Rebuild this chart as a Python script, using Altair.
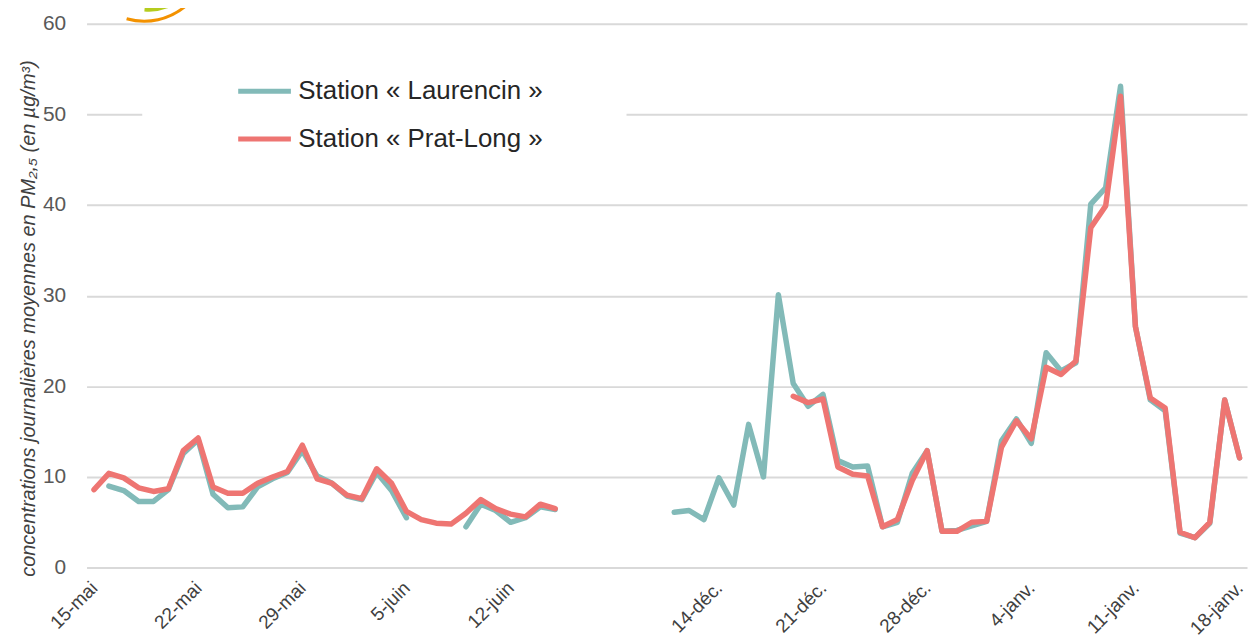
import json
import altair as alt
import pandas as pd

# ---------------- data ----------------
stations = ["Station « Laurencin »", "Station « Prat-Long »"]
colors = ["#82BAB8", "#EE7572"]

# category slots: 0..31 = 15 mai -> 15 juin, 32..38 empty, 39..77 = 11 déc -> 18 janv
n_slots = 78
may_start = 0
dec_start = 39
tick_step = 7
tick_labels = ["15-mai", "22-mai", "29-mai", "5-juin", "12-juin", "",
               "14-déc.", "21-déc.", "28-déc.", "4-janv.", "11-janv.", "18-janv."]

may_laurencin = [None, 9.0, 8.5, 7.3, 7.3, 8.6, 12.6, 14.1, 8.1, 6.6, 6.7, 8.9,
                 9.8, 10.5, 12.9, 10.1, 9.3, 7.9, 7.5, 10.5, 8.5, 5.5, None, None,
                 None, 4.5, 7.0, 6.3, 5.0, 5.5, 6.7, 6.4]
may_pratlong = [8.6, 10.4, 9.9, 8.8, 8.4, 8.7, 12.9, 14.3, 8.9, 8.2, 8.2, 9.3,
                10.0, 10.6, 13.5, 9.8, 9.3, 8.0, 7.6, 10.9, 9.3, 6.2, 5.3, 4.9,
                4.8, 6.0, 7.5, 6.5, 5.9, 5.6, 7.0, 6.5]
dec_laurencin = [6.1, 6.3, 5.3, 9.9, 6.9, 15.8, 10.0, 30.1, 20.3, 17.8, 19.1, 11.8,
                 11.1, 11.2, 4.5, 5.0, 10.4, 12.9, 4.0, 4.1, 4.6, 5.1, 14.0, 16.4,
                 13.7, 23.7, 21.7, 22.6, 40.1, 41.9, 53.1, 26.6, 18.5, 17.3, 3.8,
                 3.3, 4.9, 18.5, 12.1]
dec_pratlong = [None, None, None, None, None, None, None, None, 18.9, 18.2, 18.6,
                11.1, 10.3, 10.1, 4.5, 5.3, 9.6, 12.9, 4.0, 4.0, 5.0, 5.1, 13.3,
                16.2, 14.2, 22.1, 21.3, 22.8, 37.5, 39.9, 52.0, 26.6, 18.7, 17.6,
                3.9, 3.3, 5.0, 18.5, 12.1]

rows = []


def add(series, start, station, campaign):
    seg = 0
    gap = True
    for i, v in enumerate(series):
        if v is None:
            gap = True
            continue
        if gap:
            seg += 1
            gap = False
        rows.append({"x": start + i, "v": v, "station": station,
                     "seg": f"{station}-{campaign}-{seg}"})


add(may_laurencin, may_start, stations[0], "a")
add(dec_laurencin, dec_start, stations[0], "b")
add(may_pratlong, may_start, stations[1], "a")
add(dec_pratlong, dec_start, stations[1], "b")
df = pd.DataFrame(rows)

tick_values = [i * tick_step for i in range(len(tick_labels))]
label_expr = json.dumps(tick_labels, ensure_ascii=False) + "[round(datum.value / 7)]"

FONT = "Liberation Sans, Arial, sans-serif"

x_enc = alt.X(
    "x:Q",
    scale=alt.Scale(domain=[-0.5, n_slots - 0.5], nice=False, zero=False),
    axis=alt.Axis(values=tick_values, labelExpr=label_expr, labelAngle=315,
                  labelAlign="right", labelBaseline="middle", labelPadding=17,
                  labelFontSize=19, labelColor="#404040", labelFlush=False,
                  labelOverlap=False, domain=False, ticks=False, grid=False,
                  title=None),
)
y_enc = alt.Y(
    "v:Q",
    scale=alt.Scale(domain=[0, 60], nice=False, zero=True),
    axis=alt.Axis(values=[0, 10, 20, 30, 40, 50, 60], grid=True,
                  gridColor="#D9D9D9", gridWidth=2, domain=False, ticks=False,
                  labelPadding=21, labelFontSize=21, labelColor="#595959",
                  title="concentrations journalières moyennes en PM₂,₅ (en µg/m³)",
                  titleFontStyle="italic", titleFontWeight="normal",
                  titleFontSize=20, titleColor="#404040", titleAngle=270,
                  titleX=-58, titleY=296, titleAlign="center",
                  titleBaseline="middle"),
)
color_enc = alt.Color(
    "station:N",
    scale=alt.Scale(domain=stations, range=colors),
    legend=alt.Legend(orient="none", legendX=150, legendY=39, title=None,
                      symbolType="stroke", symbolSize=2809, symbolStrokeWidth=5,
                      labelFontSize=26, labelOffset=5, rowPadding=6,
                      labelLimit=600, padding=0, labelColor="#262626"),
)

one = pd.DataFrame({"k": [0]})

white_box = alt.Chart(one).mark_rect(color="white").encode(
    x=alt.value(56), x2=alt.value(543), y=alt.value(60), y2=alt.value(122)
)

lines = []
for st in stations:
    lines.append(
        alt.Chart(df).transform_filter(alt.datum.station == st)
        .mark_line(strokeWidth=5.5, strokeCap="round", strokeJoin="round")
        .encode(x=x_enc, y=y_enc, color=color_enc, detail="seg:N")
    )

logo_orange = alt.Chart(one).mark_arc(
    theta=2.43, theta2=3.42, radius=66, radius2=63, color="#F39200"
).encode(x=alt.value(58), y=alt.value(-67))
logo_green = alt.Chart(one).mark_arc(
    theta=2.3, theta2=3.24, radius=50, radius2=46, color="#B5CC1E"
).encode(x=alt.value(63), y=alt.value(-62))

chart = alt.layer(white_box, *lines, logo_orange, logo_green).properties(
    width=1167, height=547,
    autosize=alt.AutoSizeParams(type="none"),
    padding={"left": 79, "top": 14, "right": 1, "bottom": 66},
).configure(font=FONT).configure_view(stroke=None)

chart.save("out.html", embed_options={"renderer": "svg", "actions": False})
